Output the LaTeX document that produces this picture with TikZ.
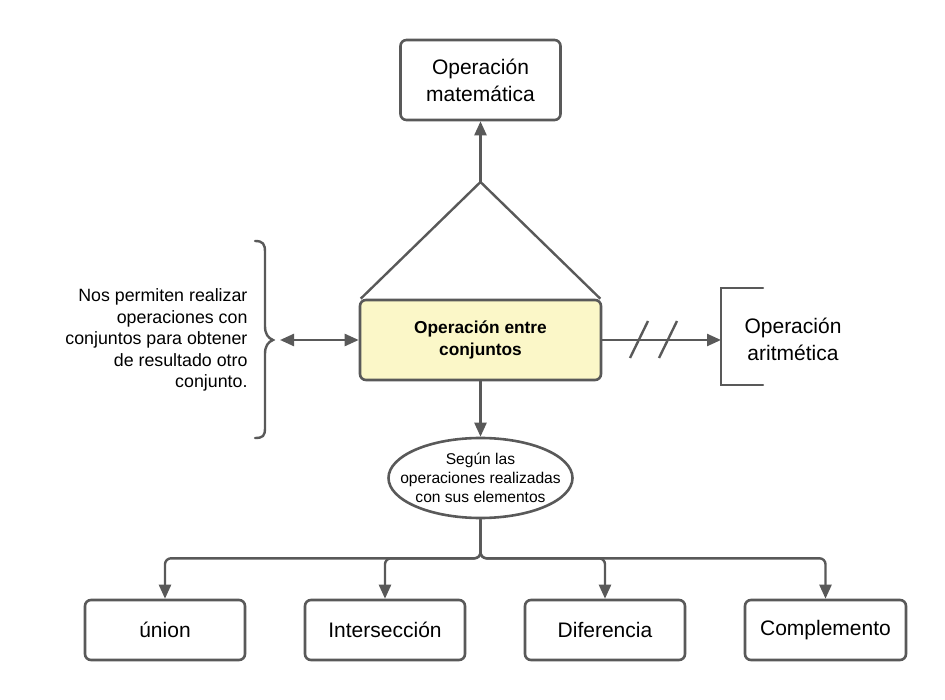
\documentclass[tikz,border=0pt]{standalone}
\usepackage{fontspec}
\setmainfont{Liberation Sans}
\usetikzlibrary{arrows.meta,shapes.geometric}
\definecolor{ln}{HTML}{595959}
\definecolor{yel}{HTML}{FBF7C8}
\tikzset{
  box/.style={draw=ln,line width=2.6pt,rounded corners=6pt,fill=white,align=center,inner sep=0pt},
  ln/.style={draw=ln,line width=2.4pt},
  arr/.style={ln,-{Triangle[length=14pt,width=12pt]}},
  big/.style={font=\fontsize{21}{27}\selectfont}
}
\begin{document}
\begin{tikzpicture}[x=1pt,y=-1pt]
\useasboundingbox (0,0) rectangle (945,700);
% top box
\node[box,big,minimum width=160pt,minimum height=80pt] (mat) at (480.5,80) {Operación\\matemática};
% central box
\node[box,fill=yel,minimum width=241pt,minimum height=80pt,font=\bfseries\fontsize{17.3}{22}\selectfont] (cen) at (480.5,340) {Operación entre\\conjuntos};
% triangle
\coordinate (apex) at (480.5,182);
\draw[ln,line join=round] ([xshift=2pt]cen.north west) -- (apex) -- ([xshift=-2pt]cen.north east);
\draw[arr] (apex) -- (mat.south);
% left text and brace
\node[align=right,anchor=east,font=\fontsize{17.8}{21.5}\selectfont] (desc) at (251,340) {Nos permiten realizar\\operaciones con\\conjuntos para obtener\\de resultado otro\\conjunto.};
\coordinate (btip) at (273,340);
\draw[ln,line cap=round] (255,241) .. controls (263,241) and (265,244) .. (265,252) -- (265,326) .. controls (265,334) and (268,338) .. (btip) .. controls (268,342) and (265,346) .. (265,354) -- (265,428) .. controls (265,436) and (263,438) .. (255,438);
\coordinate (bstart) at (280,340);
\draw[ln,{Triangle[length=14pt,width=12pt]}-{Triangle[length=14pt,width=12pt]}] (bstart) -- (cen.west);
% right bracket
\coordinate (brt) at (721,288);
\coordinate (brb) at (721,385);
\draw[ln,line cap=round] (763,288) -- (brt) -- (brb) -- (763,385);
\node[big,align=center] (ari) at (793,339) {Operación\\aritmética};
\coordinate (brm) at (721,340);
\draw[arr] (cen.east) -- (brm);
\draw[ln] (630,358) -- (648,321);
\draw[ln] (659,358) -- (677,321);
% ellipse
\node[ellipse,draw=ln,line width=2.6pt,minimum width=184pt,minimum height=80pt,inner sep=-16pt,align=center,font=\fontsize{15.6}{19}\selectfont] (ell) at (480.5,478) {Según las\\operaciones realizadas\\con sus elementos};
\draw[arr] (cen.south) -- (ell.north);
% bottom boxes
\node[box,big,minimum width=160pt,minimum height=60pt] (u) at (165,630) {únion};
\node[box,big,minimum width=160pt,minimum height=60pt] (i) at (385,630) {Intersección};
\node[box,big,minimum width=160pt,minimum height=60pt] (d) at (605,630) {Diferencia};
\node[box,big,minimum width=161pt,minimum height=60pt] (c) at (825.5,630) {Complemento};
\foreach \t in {u,i,d,c}{
  \draw[arr,rounded corners=6pt] (ell.south) -- ++(0,39) -| (\t.north);
}
\end{tikzpicture}
\end{document}
